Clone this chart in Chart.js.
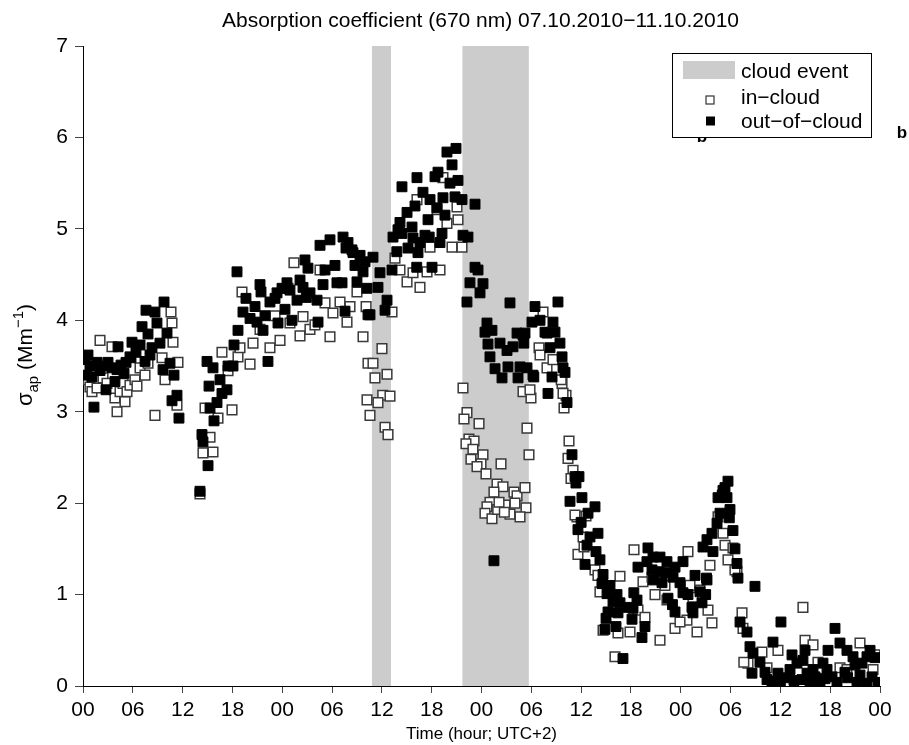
<!DOCTYPE html>
<html>
<head>
<meta charset="utf-8">
<script src="https://cdn.jsdelivr.net/npm/chart.js@4.4.1/dist/chart.umd.min.js"></script>
<style>
html,body{margin:0;padding:0;background:#ffffff;}
canvas{display:block;}
</style>
</head>
<body>
<canvas id="chart" width="909" height="745"></canvas>
<script>
// ---------------- DATA ----------------
const chartTitle = 'Absorption coefficient (670 nm) 07.10.2010\u221211.10.2010';
const xAxisTitle = 'Time (hour; UTC+2)';
const xTickLabels = ['00','06','12','18','00','06','12','18','00','06','12','18','00','06','12','18','00'];
const yTickValues = [0,1,2,3,4,5,6,7];
// cloud events, hours since 07.10.2010 00:00
const cloudStart = [34.8, 45.7];
const cloudEnd   = [37.1, 53.7];
const legendLabels = ['cloud event', 'in\u2212cloud', 'out\u2212of\u2212cloud'];

// out-of-cloud: hours since 07.10.2010 00:00, sigma_ap (Mm^-1)
const outHours = [
0.05,0.24,0.45,0.60,0.84,1.08,1.32,1.69,2.05,2.41,2.77,3.01,3.49,3.85,4.10,4.22,4.58,4.94,5.18,5.66,5.78,5.90,6.38,6.87,7.11,7.47,7.59,7.83,8.07,8.31,8.67,8.91,9.27,9.64,9.76,10.12,10.48,10.72,10.96,11.32,11.56,
14.09,14.33,14.45,15.06,14.94,15.18,15.30,15.66,15.78,16.14,16.50,16.74,17.34,17.47,18.07,18.19,18.67,19.27,19.63,20.12,20.96,21.44,21.68,22.28,22.52,23.37,23.49,24.57,25.78,26.50,27.34,28.19,28.31,28.91,30.59,31.56,33.00,34.21,34.33,
18.55,21.32,23.97,24.93,23.13,26.14,26.74,27.10,28.55,29.15,29.75,30.35,31.68,32.40,32.76,33.97,20.72,21.92,24.33,25.17,26.90,
31.32,31.92,31.80,32.52,33.37,34.93,31.20,33.73,34.57,35.77,35.53,36.62,36.38,37.22,
38.42,40.23,40.95,42.40,42.76,43.84,44.93,44.45,44.20,45.17,45.65,47.22,43.36,41.80,42.64,41.56,39.03,38.18,37.94,37.34,38.42,39.63,39.75,41.19,43.24,43.00,40.59,39.15,37.80,40.35,41.70,45.77,46.37,40.20,42.04,47.22,47.58,46.61,48.18,47.82,46.25,51.43,
48.66,48.42,49.26,48.78,49.02,49.63,50.47,50.23,51.07,51.19,52.28,51.79,52.64,52.40,53.24,53.48,54.20,54.44,54.08,55.05,56.61,57.21,55.89,56.85,57.45,57.70,56.49,58.06,56.01,58.30,58.90,49.50,39.99,43.60,44.81,
53.00,53.10,55.65,56.25,57.82,54.30,59.26,59.74,59.38,58.66,60.10,60.83,61.67,60.00,59.62,61.07,62.03,60.71,61.79,62.27,60.47,62.64,62.51,63.48,63.12,64.32,63.84,64.68,63.24,64.44,63.00,62.87,64.20,66.13,67.33,67.69,65.04,65.52,66.25,66.73,66.35,66.85,
68.05,67.93,68.66,69.50,70.34,71.31,72.27,68.54,69.40,68.70,69.74,70.20,71.07,70.46,71.00,71.31,71.91,72.27,72.87,73.72,75.16,74.32,75.00,73.35,73.47,74.56,
74.68,75.88,75.16,75.76,76.37,76.73,76.49,77.09,77.69,77.57,77.93,77.85,78.29,78.53,78.77,78.89,80.94,79.14,79.98,80.34,81.54,80.58,82.39,75.10,77.33,77.00,
84.07,83.11,80.70,83.71,84.80,83.95,85.40,86.97,86.72,86.00,87.21,86.60,88.17,88.77,89.13,89.74,90.58,91.18,90.22,90.82,92.02,92.75,92.99,94.43,94.80,95.40,92.10,93.23,94.43,95.76,89.62,87.93,85.16,82.15,82.99,85.64,87.57,89.37,91.78,93.59,95.04,93.83
];
const outValues = [
3.58,3.57,3.40,3.62,3.50,3.38,3.05,3.54,3.45,3.50,3.24,3.54,3.48,3.33,3.46,3.71,3.51,3.42,3.54,3.60,3.59,3.76,3.65,3.73,3.93,3.55,4.11,3.85,3.62,3.70,4.09,3.97,3.75,3.46,4.20,3.86,3.53,3.12,3.40,3.18,2.93,
2.13,2.75,2.67,2.41,3.55,3.28,3.04,3.48,2.90,3.10,3.35,3.20,3.24,3.50,3.50,3.73,3.89,4.09,4.24,4.02,3.98,4.31,3.89,3.55,4.20,4.30,3.97,4.41,4.22,4.36,4.30,4.22,3.98,4.39,4.41,4.10,4.42,4.35,4.06,
4.53,4.39,4.35,4.33,4.24,4.44,4.66,4.57,4.82,4.55,4.88,4.60,4.79,4.77,4.60,4.64,4.15,4.05,4.12,4.00,4.25,
4.91,4.85,4.80,4.74,4.71,4.69,4.41,4.53,4.06,4.52,4.36,4.22,4.11,4.55,
5.46,5.56,5.40,5.57,5.62,5.84,5.88,5.70,5.50,5.53,5.32,5.27,5.34,5.32,5.23,5.10,5.18,5.07,4.99,4.91,4.95,5.02,4.90,4.93,4.95,4.85,4.85,4.79,4.75,4.74,4.91,4.93,4.91,4.58,4.58,4.58,4.55,4.41,4.40,4.30,4.20,4.19,
3.97,3.87,3.89,3.74,3.60,3.47,3.37,3.75,3.67,3.49,3.86,3.71,3.49,3.37,3.86,3.48,3.40,4.15,3.98,4.00,3.98,4.20,3.86,3.87,3.75,3.60,3.38,3.43,3.20,3.10,2.53,1.37,5.25,5.15,5.35,
3.84,3.75,3.87,3.70,3.48,3.38,2.29,2.29,2.22,2.02,2.06,1.89,1.96,1.79,1.71,1.63,1.67,1.54,1.47,1.38,1.33,1.22,1.12,1.10,1.01,1.00,0.92,0.91,0.81,0.80,0.74,0.62,0.65,0.73,0.53,0.65,0.30,0.86,0.85,0.94,1.02,1.30,
1.51,1.36,1.41,1.41,1.36,1.30,1.36,1.27,1.25,1.16,1.13,1.24,1.19,0.96,0.89,0.81,1.13,1.02,1.00,1.21,1.16,1.03,1.00,0.86,0.80,0.91,
1.52,1.47,1.60,1.67,1.78,1.89,2.06,2.14,2.24,2.06,1.93,1.84,1.70,1.50,1.34,1.18,1.09,0.70,0.59,0.43,0.26,0.14,0.07,1.18,2.17,2.09,
0.70,0.48,0.36,0.14,0.09,0.04,0.34,0.39,0.28,0.25,0.14,0.07,0.10,0.04,0.25,0.39,0.63,0.47,0.10,0.04,0.39,0.32,0.23,0.32,0.39,0.31,0.09,0.04,0.03,0.04,0.18,0.18,0.18,0.15,0.05,0.06,0.05,0.08,0.15,0.12,0.10,0.25
];

// in-cloud: hours since 07.10.2010 00:00, sigma_ap (Mm^-1)
const inHours = [
0.00,0.36,0.60,0.84,1.08,1.69,2.05,2.41,2.89,3.49,3.85,4.10,4.46,4.82,5.06,5.30,5.66,6.26,6.50,6.87,7.47,7.83,8.67,9.52,9.88,10.60,10.72,10.84,11.32,11.44,
14.09,14.45,14.70,15.30,15.66,16.26,16.74,17.47,17.95,18.67,18.91,19.15,20.12,20.48,21.32,22.52,23.13,23.73,24.69,24.93,25.41,26.14,26.50,27.34,27.94,28.55,29.15,29.75,30.11,30.96,31.80,32.16,33.00,33.73,34.10,34.21,34.33,34.57,
37.58,38.18,39.03,39.75,40.23,40.59,41.44,41.80,42.64,43.00,43.36,43.84,44.45,45.05,45.17,45.65,37.22,36.01,34.93,35.17,36.62,36.10,35.53,36.98,36.38,36.74,
45.77,46.25,45.89,47.70,46.49,47.10,46.13,46.97,48.18,46.73,47.94,47.46,48.54,50.35,53.72,53.48,53.00,53.96,49.87,50.59,49.50,49.02,48.66,48.42,49.26,49.95,50.83,51.43,51.91,52.28,52.03,53.24,53.36,52.64,50.11,50.75,
54.93,55.05,55.89,55.41,57.70,58.18,57.94,56.61,57.60,57.82,53.84,58.54,58.42,59.02,58.78,59.50,59.26,60.59,59.62,60.35,61.67,62.03,62.27,62.64,64.08,64.44,65.89,66.37,66.85,67.45,68.90,69.50,71.31,72.87,72.75,73.96,74.32,75.28,75.76,75.52,
76.49,77.09,77.33,77.69,78.77,79.38,79.50,80.10,81.78,68.54,70.34,73.47,60.23,78.29,78.53,79.60,82.39,83.71,86.72,86.97,87.93,88.53,91.18,93.59,95.40,95.16,92.02,88.41,85.16,64.68,67.69,70.10,71.91,73.11
];
const inValues = [
3.43,3.50,3.35,3.27,3.22,3.26,3.78,3.37,3.31,3.71,3.15,3.00,3.22,3.31,3.11,3.22,3.29,3.35,3.28,3.48,3.40,3.53,2.96,3.59,3.35,4.09,3.97,3.76,3.07,3.54,
2.10,2.55,3.04,2.72,2.56,2.93,3.65,3.45,3.02,3.60,3.70,4.31,3.52,3.75,3.90,3.70,4.05,3.78,4.35,3.97,4.63,3.83,4.04,3.90,3.95,4.55,4.19,3.82,4.08,4.20,3.98,4.15,4.31,3.82,4.15,3.13,3.53,2.96,
4.68,4.55,4.42,4.52,5.32,4.36,4.53,4.80,5.21,4.55,5.56,5.06,4.80,5.24,5.10,4.80,4.09,3.69,3.53,3.37,3.41,3.18,3.10,3.17,2.83,2.75,
3.26,2.99,2.92,2.87,2.70,2.68,2.65,2.59,2.53,2.48,2.43,2.40,2.32,2.43,2.53,2.82,3.22,3.15,2.21,2.18,2.12,2.01,1.96,1.89,1.83,1.93,1.98,1.88,2.12,2.08,2.00,2.17,1.95,1.85,2.01,1.90,
3.70,3.62,3.48,4.09,3.31,3.18,3.04,3.57,3.35,3.20,3.24,2.68,2.49,2.36,2.27,1.85,1.87,1.86,1.44,1.52,1.27,1.21,1.03,0.61,0.32,0.58,0.59,1.49,0.83,1.14,1.00,0.50,0.63,1.47,0.72,0.59,1.05,0.83,0.69,1.32,
1.85,1.67,1.54,1.38,1.25,0.80,0.63,0.25,0.37,1.19,0.94,0.97,1.63,1.51,1.27,0.26,0.20,0.39,0.86,0.50,0.45,0.26,0.20,0.47,0.34,0.18,0.18,0.02,0.03,1.20,0.75,1.10,0.70,1.10
];

// ---------------- CHART ----------------
const FONT = '"Liberation Sans", Arial, Helvetica, sans-serif';
Chart.defaults.font.family = FONT;
Chart.defaults.color = '#000';

const toPoints = (hs, vs) => hs.map((h, i) => ({x: h, y: vs[i]}));

const bandsPlugin = {
  id: 'cloudBands',
  beforeDatasetsDraw(chart) {
    const {ctx, scales} = chart;
    ctx.save();
    ctx.fillStyle = '#cccccc';
    for (let i = 0; i < cloudStart.length; i++) {
      const x0 = scales.x.getPixelForValue(cloudStart[i]);
      const x1 = scales.x.getPixelForValue(cloudEnd[i]);
      const yTop = scales.y.getPixelForValue(7);
      const yBot = scales.y.getPixelForValue(0);
      ctx.fillRect(x0, yTop, x1 - x0, yBot - yTop);
    }
    ctx.restore();
  }
};

const textPlugin = {
  id: 'texts',
  afterDraw(chart) {
    const {ctx, chartArea} = chart;
    const cx = (chartArea.left + chartArea.right) / 2;
    ctx.save();
    ctx.fillStyle = '#000';
    // title
    ctx.font = '21px ' + FONT;
    ctx.textAlign = 'center';
    ctx.textBaseline = 'alphabetic';
    ctx.fillText(chartTitle, cx - 1, 27);
    // x axis title
    ctx.font = '17px ' + FONT;
    ctx.fillText(xAxisTitle, cx, 739);

    // y axis title (rotated): sigma_ap (Mm^-1)
    const segs = [
      {t: '\u03c3', s: 22, dy: 0},
      {t: 'ap', s: 15, dy: 6},
      {t: ' (Mm', s: 21, dy: 0},
      {t: '\u22121', s: 15, dy: -9},
      {t: ')', s: 21, dy: 0}
    ];
    let total = 0;
    segs.forEach(sg => { ctx.font = sg.s + 'px ' + FONT; sg.w = ctx.measureText(sg.t).width; total += sg.w; });
    ctx.translate(32, 355);
    ctx.rotate(-Math.PI / 2);
    ctx.textAlign = 'left';
    let px = -total / 2;
    segs.forEach(sg => { ctx.font = sg.s + 'px ' + FONT; ctx.fillText(sg.t, px, sg.dy); px += sg.w; });
    ctx.setTransform(1, 0, 0, 1, 0, 0);

    // panel letters
    ctx.font = 'bold 17px ' + FONT;
    ctx.textAlign = 'center';
    ctx.fillText('b', 702, 142);
    ctx.fillText('b', 902, 138);

    // legend
    ctx.fillStyle = '#fff';
    ctx.fillRect(672, 53, 200, 85);
    ctx.strokeStyle = '#000';
    ctx.lineWidth = 1;
    ctx.strokeRect(672.5, 53.5, 199, 84);
    ctx.fillStyle = '#cccccc';
    ctx.fillRect(683, 61, 52, 18);
    // in-cloud marker
    ctx.fillStyle = '#fff';
    ctx.fillRect(706, 96, 8, 8);
    ctx.strokeStyle = '#333';
    ctx.lineWidth = 1.2;
    ctx.strokeRect(706, 96, 8, 8);
    // out-of-cloud marker
    ctx.fillStyle = '#000';
    ctx.fillRect(706, 116.5, 9, 9);
    ctx.font = '21px ' + FONT;
    ctx.textAlign = 'left';
    ctx.fillText(legendLabels[0], 741, 78);
    ctx.fillText(legendLabels[1], 741, 104);
    ctx.fillText(legendLabels[2], 741, 128);
    ctx.restore();
  }
};

new Chart(document.getElementById('chart').getContext('2d'), {
  type: 'scatter',
  data: {
    datasets: [
      {
        label: 'out-of-cloud',
        data: toPoints(outHours, outValues),
        order: 0,
        pointStyle: 'rect',
        pointRadius: 7,
        pointHoverRadius: 7,
        backgroundColor: '#000',
        borderColor: '#000',
        borderWidth: 1
      },
      {
        label: 'in-cloud',
        data: toPoints(inHours, inValues),
        order: 1,
        pointStyle: 'rect',
        pointRadius: 6.8,
        pointHoverRadius: 6.8,
        backgroundColor: '#fff',
        borderColor: '#3a3a3a',
        borderWidth: 1.5
      }
    ]
  },
  options: {
    responsive: false,
    animation: false,
    devicePixelRatio: 1,
    events: [],
    layout: {padding: {left: 0, right: 29, top: 46, bottom: 0}},
    plugins: {legend: {display: false}, title: {display: false}, tooltip: {enabled: false}},
    scales: {
      x: {
        type: 'linear',
        min: 0, max: 96,
        afterFit(s) { s.height = 59; },
        ticks: {
          stepSize: 6,
          autoSkip: false,
          maxRotation: 0,
          minRotation: 0,
          padding: 5,
          color: '#000',
          font: {size: 21, family: FONT},
          callback: (v, i) => xTickLabels[i]
        },
        grid: {drawOnChartArea: false, drawTicks: true, tickLength: 7, tickColor: '#444', color: '#444'},
        border: {display: true, color: '#000', width: 1}
      },
      y: {
        type: 'linear',
        min: 0, max: 7,
        afterFit(s) { s.width = 83; },
        afterBuildTicks(s) { s.ticks = yTickValues.map(v => ({value: v})); },
        ticks: {
          stepSize: 1,
          padding: 7,
          color: '#000',
          font: {size: 21, family: FONT},
          callback: (v) => String(v)
        },
        grid: {drawOnChartArea: false, drawTicks: true, tickLength: 8, tickColor: '#444', color: '#444'},
        border: {display: true, color: '#000', width: 1}
      }
    }
  },
  plugins: [bandsPlugin, textPlugin]
});
</script>
</body>
</html>
